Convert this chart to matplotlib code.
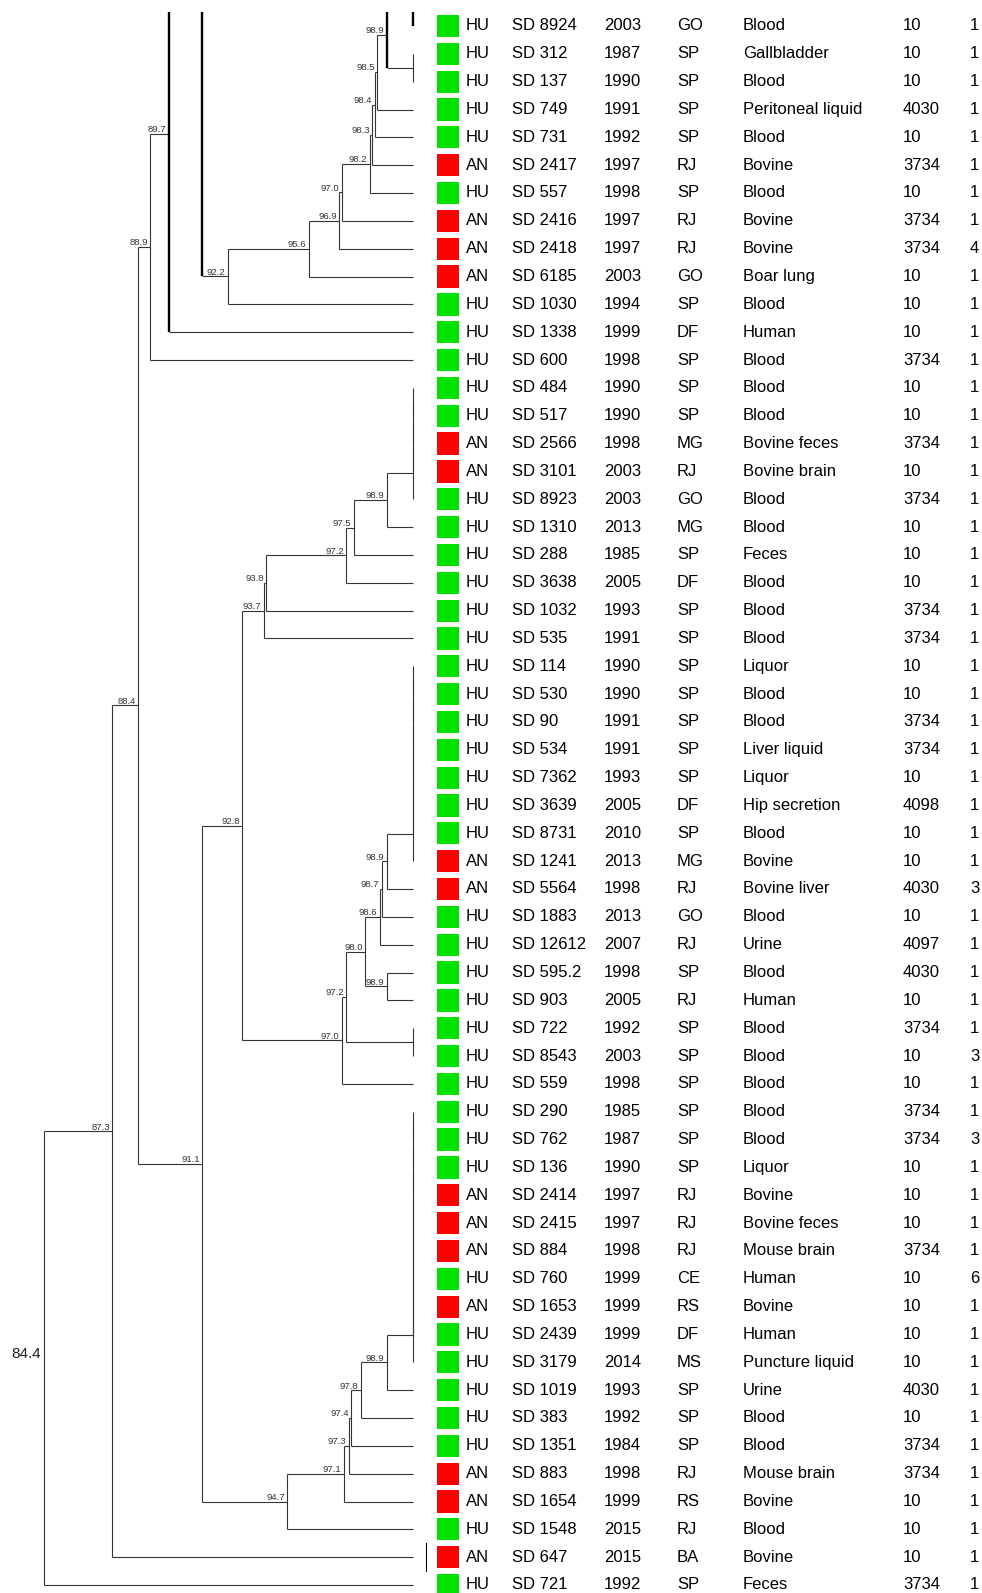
import matplotlib
matplotlib.use('Agg')
import matplotlib.pyplot as plt
from matplotlib.patches import Rectangle

plt.rcParams['font.family'] = ['Liberation Sans', 'DejaVu Sans']

# isolate table, one entry per row (top to bottom)
host = ['HU', 'HU', 'HU', 'HU', 'HU', 'AN', 'HU', 'AN', 'AN', 'AN',
        'HU', 'HU', 'HU', 'HU', 'HU', 'AN', 'AN', 'HU', 'HU', 'HU',
        'HU', 'HU', 'HU', 'HU', 'HU', 'HU', 'HU', 'HU', 'HU', 'HU',
        'AN', 'AN', 'HU', 'HU', 'HU', 'HU', 'HU', 'HU', 'HU', 'HU',
        'HU', 'HU', 'AN', 'AN', 'AN', 'HU', 'AN', 'HU', 'HU', 'HU',
        'HU', 'HU', 'AN', 'AN', 'HU', 'AN', 'HU']
strain = ['SD 8924', 'SD 312', 'SD 137', 'SD 749', 'SD 731', 'SD 2417', 'SD 557',
          'SD 2416', 'SD 2418', 'SD 6185', 'SD 1030', 'SD 1338', 'SD 600', 'SD 484',
          'SD 517', 'SD 2566', 'SD 3101', 'SD 8923', 'SD 1310', 'SD 288', 'SD 3638',
          'SD 1032', 'SD 535', 'SD 114', 'SD 530', 'SD 90', 'SD 534', 'SD 7362',
          'SD 3639', 'SD 8731', 'SD 1241', 'SD 5564', 'SD 1883', 'SD 12612',
          'SD 595.2', 'SD 903', 'SD 722', 'SD 8543', 'SD 559', 'SD 290', 'SD 762',
          'SD 136', 'SD 2414', 'SD 2415', 'SD 884', 'SD 760', 'SD 1653', 'SD 2439',
          'SD 3179', 'SD 1019', 'SD 383', 'SD 1351', 'SD 883', 'SD 1654', 'SD 1548',
          'SD 647', 'SD 721']
year = [2003, 1987, 1990, 1991, 1992, 1997, 1998, 1997, 1997, 2003,
        1994, 1999, 1998, 1990, 1990, 1998, 2003, 2003, 2013, 1985,
        2005, 1993, 1991, 1990, 1990, 1991, 1991, 1993, 2005, 2010,
        2013, 1998, 2013, 2007, 1998, 2005, 1992, 2003, 1998, 1985,
        1987, 1990, 1997, 1997, 1998, 1999, 1999, 1999, 2014, 1993,
        1992, 1984, 1998, 1999, 2015, 2015, 1992]
state = ['GO', 'SP', 'SP', 'SP', 'SP', 'RJ', 'SP', 'RJ', 'RJ', 'GO',
         'SP', 'DF', 'SP', 'SP', 'SP', 'MG', 'RJ', 'GO', 'MG', 'SP',
         'DF', 'SP', 'SP', 'SP', 'SP', 'SP', 'SP', 'SP', 'DF', 'SP',
         'MG', 'RJ', 'GO', 'RJ', 'SP', 'RJ', 'SP', 'SP', 'SP', 'SP',
         'SP', 'SP', 'RJ', 'RJ', 'RJ', 'CE', 'RS', 'DF', 'MS', 'SP',
         'SP', 'SP', 'RJ', 'RS', 'RJ', 'BA', 'SP']
source = ['Blood', 'Gallbladder', 'Blood', 'Peritoneal liquid', 'Blood', 'Bovine',
          'Blood', 'Bovine', 'Bovine', 'Boar lung', 'Blood', 'Human', 'Blood',
          'Blood', 'Blood', 'Bovine feces', 'Bovine brain', 'Blood', 'Blood',
          'Feces', 'Blood', 'Blood', 'Blood', 'Liquor', 'Blood', 'Blood',
          'Liver liquid', 'Liquor', 'Hip secretion', 'Blood', 'Bovine',
          'Bovine liver', 'Blood', 'Urine', 'Blood', 'Human', 'Blood', 'Blood',
          'Blood', 'Blood', 'Blood', 'Liquor', 'Bovine', 'Bovine feces',
          'Mouse brain', 'Human', 'Bovine', 'Human', 'Puncture liquid', 'Urine',
          'Blood', 'Blood', 'Mouse brain', 'Bovine', 'Blood', 'Bovine', 'Feces']
st = [10, 10, 10, 4030, 10, 3734, 10, 3734, 3734, 10,
      10, 10, 3734, 10, 10, 3734, 10, 3734, 10, 10,
      10, 3734, 3734, 10, 10, 3734, 3734, 10, 4098, 10,
      10, 4030, 10, 4097, 4030, 10, 3734, 10, 10, 3734,
      3734, 10, 10, 10, 3734, 10, 10, 10, 10, 4030,
      10, 3734, 3734, 10, 10, 10, 3734]
extra = [1, 1, 1, 1, 1, 1, 1, 1, 4, 1,
         1, 1, 1, 1, 1, 1, 1, 1, 1, 1,
         1, 1, 1, 1, 1, 1, 1, 1, 1, 1,
         1, 3, 1, 1, 1, 1, 1, 3, 1, 1,
         3, 1, 1, 1, 1, 6, 1, 1, 1, 1,
         1, 1, 1, 1, 1, 1, 1]
flag_rows = [56]

host_colors = {'HU': '#00e100', 'AN': '#ff0000'}


# dendrogram: nodes are (similarity %, upper, lower), leaves are row numbers.
# rows <= 0 belong to the part of the tree printed on the previous page.
def same(rows):
    # identical profiles, joined one after the other at 100 %
    rows = list(rows)
    node = rows[0]
    for r in rows[1:]:
        node = (100.0, node, r)
    return node


def chain(node, steps):
    for sim, leaf in steps:
        node = (sim, node, leaf)
    return node


upper = chain((98.9, same([-2, -1, 0, 1]), same([2, 3])),
              [(98.5, 4), (98.4, 5), (98.3, 6), (98.2, 7), (97.0, 8),
               (96.9, 9), (95.6, 10), (92.2, 11)])
upper = chain((91.1, -14.5, upper), [(89.7, 12), (88.9, 13)])

mid_a = chain((98.9, same(range(14, 19)), 19),
              [(97.5, 20), (97.2, 21), (93.8, 22), (93.7, 23)])
mid_b = chain((98.9, same(range(24, 32)), 32), [(98.7, 33), (98.6, 34)])
mid_b = (98.0, mid_b, (98.9, 35, 36))
mid_b = chain((97.2, mid_b, same([37, 38])), [(97.0, 39)])

lower = chain((98.9, same(range(40, 50)), 50),
              [(97.8, 51), (97.4, 52), (97.3, 53), (97.1, 54), (94.7, 55)])

tree = (84.4, (87.3, (88.4, upper, (91.1, (92.8, mid_a, mid_b), lower)), 56), 57)

# walk the tree and collect branch segments
hsegs, vsegs, node_labels = [], [], []


def walk(node, parent_sim=None):
    if isinstance(node, tuple):
        sim, a, b = node
        ya = walk(a, sim)
        yb = walk(b, sim)
        vsegs.append((sim, ya, yb))
        y = (ya + yb) / 2
        x = sim
        if sim < 100 and parent_sim is not None:
            node_labels.append((sim, y))
    else:
        y = float(node)
        x = 100.0
    if parent_sim is not None:
        hsegs.append((y, parent_sim, x))
    return y


root_y = walk(tree)

# page geometry (pixels)
W, H = 982, 1593
top_px = 12
row0_px, row_px = 26.0, 27.84
px_per_pct = 369 / 15.6
tree_w = 420

fig = plt.figure(figsize=(W / 100, H / 100), dpi=100)
ax = fig.add_axes([0, 0, tree_w / W, (H - top_px) / H])
x0 = 84.4 - 43.7 / px_per_pct
ax.set_xlim(x0, x0 + tree_w / px_per_pct)
y_top = 1 + (top_px - row0_px) / row_px
y_bot = 1 + (H - row0_px) / row_px
ax.set_ylim(y_bot, y_top)
ax.axis('off')

line_col = '#353535'
for y, xa, xb in hsegs:
    ax.plot([xa, xb], [y, y], color=line_col, lw=0.8, solid_capstyle='butt')
for x, ya, yb in vsegs:
    # branches running on from the previous page are drawn heavier
    if min(ya, yb) < y_top:
        ax.plot([x, x], [ya, yb], color='black', lw=1.7, solid_capstyle='butt')
    else:
        ax.plot([x, x], [ya, yb], color=line_col, lw=0.8, solid_capstyle='butt')

for sim, y in node_labels:
    ax.annotate(f'{sim:.1f}', (sim, y), xytext=(-1.8, 1.2), textcoords='offset points',
                ha='right', va='baseline', fontsize=6.8, color='#333333')
ax.annotate(f'{tree[0]:.1f}', (tree[0], root_y), xytext=(-2, 0), textcoords='offset points',
            ha='right', va='baseline', fontsize=11, color='#222222')

# table to the right of the tree
tab = fig.add_axes([tree_w / W, 0, 1 - tree_w / W, (H - top_px) / H], sharey=ax)
tab.set_xlim(tree_w, W)
tab.axis('off')

cols = [466, 512, 604, 677, 743, 903, 970]
for i in range(len(strain)):
    r = i + 1
    tab.add_patch(Rectangle((437, r - 0.4), 22.3, 0.8, facecolor=host_colors[host[i]],
                            edgecolor='none'))
    vals = [host[i], strain[i], str(year[i]), state[i], source[i], str(st[i]), str(extra[i])]
    for cx, v in zip(cols, vals):
        tab.text(cx, r + 0.16, v, ha='left', va='baseline', fontsize=12, color='black')

for r in flag_rows:
    tab.plot([426, 426], [r - 0.5, r + 0.5], color='black', lw=0.8)

fig.savefig('out.png', dpi=100, facecolor='white')
